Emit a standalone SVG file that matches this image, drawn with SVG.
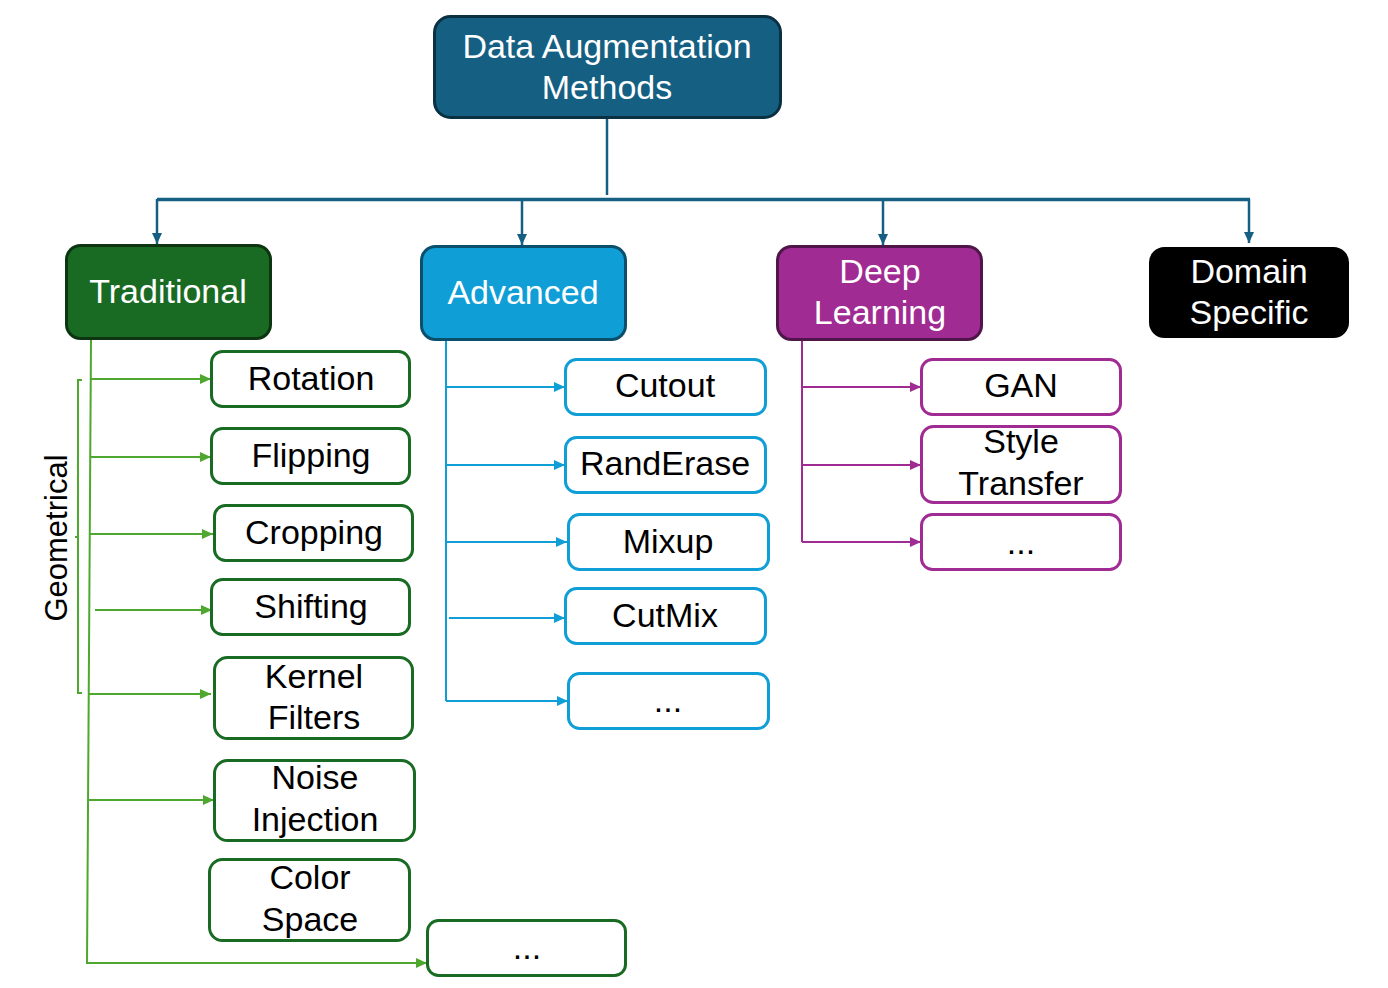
<svg xmlns="http://www.w3.org/2000/svg" width="1388" height="988" viewBox="0 0 1388 988">
<style>
text{font-family:"Liberation Sans",Arial,sans-serif;font-size:34px;text-anchor:middle;fill:#000}
.w{fill:#fff}
.g{font-size:31px}
.top{fill:#156082;stroke:#0B3041;stroke-width:3}
.trad{fill:#196B24;stroke:#0D3512;stroke-width:3}
.adv{fill:#0F9ED5;stroke:#0A4F6B;stroke-width:3}
.deep{fill:#A02B93;stroke:#50164A;stroke-width:3}
.dom{fill:#000;stroke:#000;stroke-width:3}
.ct{fill:#fff;stroke:#196B24;stroke-width:3}
.ca{fill:#fff;stroke:#0F9ED5;stroke-width:3}
.cd{fill:#fff;stroke:#A02B93;stroke-width:3}
.lt{stroke:#156082;stroke-width:2.5;fill:none}
.lg{stroke:#4EA72E;stroke-width:2;fill:none}
.lb{stroke:#0F9ED5;stroke-width:2;fill:none}
.lp{stroke:#A02B93;stroke-width:2;fill:none}
</style>
<defs>
<marker id="aT" markerUnits="userSpaceOnUse" markerWidth="11" markerHeight="10" refX="11" refY="5" orient="auto"><path d="M0,0 L11,5 L0,10 z" fill="#156082"/></marker>
<marker id="aG" markerUnits="userSpaceOnUse" markerWidth="11" markerHeight="10" refX="11" refY="5" orient="auto"><path d="M0,0 L11,5 L0,10 z" fill="#4EA72E"/></marker>
<marker id="aB" markerUnits="userSpaceOnUse" markerWidth="11" markerHeight="10" refX="11" refY="5" orient="auto"><path d="M0,0 L11,5 L0,10 z" fill="#0F9ED5"/></marker>
<marker id="aP" markerUnits="userSpaceOnUse" markerWidth="11" markerHeight="10" refX="11" refY="5" orient="auto"><path d="M0,0 L11,5 L0,10 z" fill="#A02B93"/></marker>
</defs>

<g id="connectors">
<line class="lt" x1="607" y1="118" x2="607" y2="195"/>
<line class="lt" x1="157" y1="199.5" x2="1250" y2="199.5" style="stroke-width:3.5"/>
<line class="lt" x1="157" y1="199" x2="157" y2="244" marker-end="url(#aT)"/>
<line class="lt" x1="522" y1="199" x2="522" y2="245" marker-end="url(#aT)"/>
<line class="lt" x1="883" y1="199" x2="883" y2="245" marker-end="url(#aT)"/>
<line class="lt" x1="1249" y1="199" x2="1249" y2="243" marker-end="url(#aT)"/>

<line class="lg" x1="91" y1="339" x2="87" y2="964"/>
<line class="lg" x1="91" y1="379" x2="211" y2="379" marker-end="url(#aG)"/>
<line class="lg" x1="91" y1="457" x2="211" y2="457" marker-end="url(#aG)"/>
<line class="lg" x1="90" y1="534" x2="213" y2="534" marker-end="url(#aG)"/>
<line class="lg" x1="95" y1="610" x2="212" y2="610" marker-end="url(#aG)"/>
<line class="lg" x1="89" y1="694" x2="211" y2="694" marker-end="url(#aG)"/>
<line class="lg" x1="88" y1="800" x2="214" y2="800" marker-end="url(#aG)"/>
<line class="lg" x1="87" y1="963" x2="427" y2="963" marker-end="url(#aG)"/>
<path class="lg" d="M82,380 L78,380 L78,693 L82,693 M78,537 L75,537"/>

<line class="lb" x1="446" y1="340" x2="446" y2="701"/>
<line class="lb" x1="446" y1="387" x2="565" y2="387" marker-end="url(#aB)"/>
<line class="lb" x1="446" y1="465" x2="565" y2="465" marker-end="url(#aB)"/>
<line class="lb" x1="446" y1="542" x2="567" y2="542" marker-end="url(#aB)"/>
<line class="lb" x1="449" y1="618" x2="565" y2="618" marker-end="url(#aB)"/>
<line class="lb" x1="446" y1="701" x2="568" y2="701" marker-end="url(#aB)"/>

<line class="lp" x1="802" y1="340" x2="802" y2="542"/>
<line class="lp" x1="802" y1="387" x2="921" y2="387" marker-end="url(#aP)"/>
<line class="lp" x1="802" y1="465" x2="921" y2="465" marker-end="url(#aP)"/>
<line class="lp" x1="802" y1="542" x2="921" y2="542" marker-end="url(#aP)"/>
</g>

<g id="root"><rect class="top" x="434.5" y="16.5" width="346" height="101" rx="16"/><text class="w" x="607" y="58">Data Augmentation</text><text class="w" x="607" y="99">Methods</text></g>

<g id="traditional"><rect class="trad" x="66.5" y="245.5" width="204" height="93" rx="14"/><text class="w" x="168" y="303">Traditional</text></g>
<g id="advanced"><rect class="adv" x="421.5" y="246.5" width="204" height="93" rx="14"/><text class="w" x="523" y="304">Advanced</text></g>
<g id="deep-learning"><rect class="deep" x="777.5" y="246.5" width="204" height="93" rx="14"/><text class="w" x="880" y="283">Deep</text><text class="w" x="880" y="324">Learning</text></g>
<g id="domain-specific"><rect class="dom" x="1150.5" y="248.5" width="197" height="88" rx="14"/><text class="w" x="1249" y="283">Domain</text><text class="w" x="1249" y="324">Specific</text></g>

<g id="geometrical-label"><text class="g" transform="translate(67,538) rotate(-90)">Geometrical</text></g>

<g id="rotation"><rect class="ct" x="211.5" y="351.5" width="198" height="55" rx="11"/><text x="311" y="390">Rotation</text></g>
<g id="flipping"><rect class="ct" x="211.5" y="428.5" width="198" height="55" rx="11"/><text x="311" y="467">Flipping</text></g>
<g id="cropping"><rect class="ct" x="214.5" y="505.5" width="198" height="55" rx="11"/><text x="314" y="544">Cropping</text></g>
<g id="shifting"><rect class="ct" x="211.5" y="579.5" width="198" height="55" rx="11"/><text x="311" y="618">Shifting</text></g>
<g id="kernel-filters"><rect class="ct" x="214.5" y="657.5" width="198" height="81" rx="13"/><text x="314" y="688">Kernel</text><text x="314" y="729">Filters</text></g>
<g id="noise-injection"><rect class="ct" x="214.5" y="760.5" width="200" height="80" rx="13"/><text x="315" y="789">Noise</text><text x="315" y="831">Injection</text></g>
<g id="color-space"><rect class="ct" x="209.5" y="859.5" width="200" height="81" rx="13"/><text x="310" y="889">Color</text><text x="310" y="931">Space</text></g>
<g id="trad-more"><rect class="ct" x="427.5" y="920.5" width="198" height="55" rx="11"/><text x="527" y="959">...</text></g>

<g id="cutout"><rect class="ca" x="565.5" y="359.5" width="200" height="55" rx="11"/><text x="665" y="397">Cutout</text></g>
<g id="randerase"><rect class="ca" x="565.5" y="437.5" width="200" height="55" rx="11"/><text x="665" y="475">RandErase</text></g>
<g id="mixup"><rect class="ca" x="568.5" y="514.5" width="200" height="55" rx="11"/><text x="668" y="553">Mixup</text></g>
<g id="cutmix"><rect class="ca" x="565.5" y="588.5" width="200" height="55" rx="11"/><text x="665" y="627">CutMix</text></g>
<g id="adv-more"><rect class="ca" x="568.5" y="673.5" width="200" height="55" rx="11"/><text x="668" y="712">...</text></g>

<g id="gan"><rect class="cd" x="921.5" y="359.5" width="199" height="55" rx="11"/><text x="1021" y="397">GAN</text></g>
<g id="style-transfer"><rect class="cd" x="921.5" y="426.5" width="199" height="76" rx="12"/><text x="1021" y="453">Style</text><text x="1021" y="495">Transfer</text></g>
<g id="deep-more"><rect class="cd" x="921.5" y="514.5" width="199" height="55" rx="11"/><text x="1021" y="554">...</text></g>
</svg>
